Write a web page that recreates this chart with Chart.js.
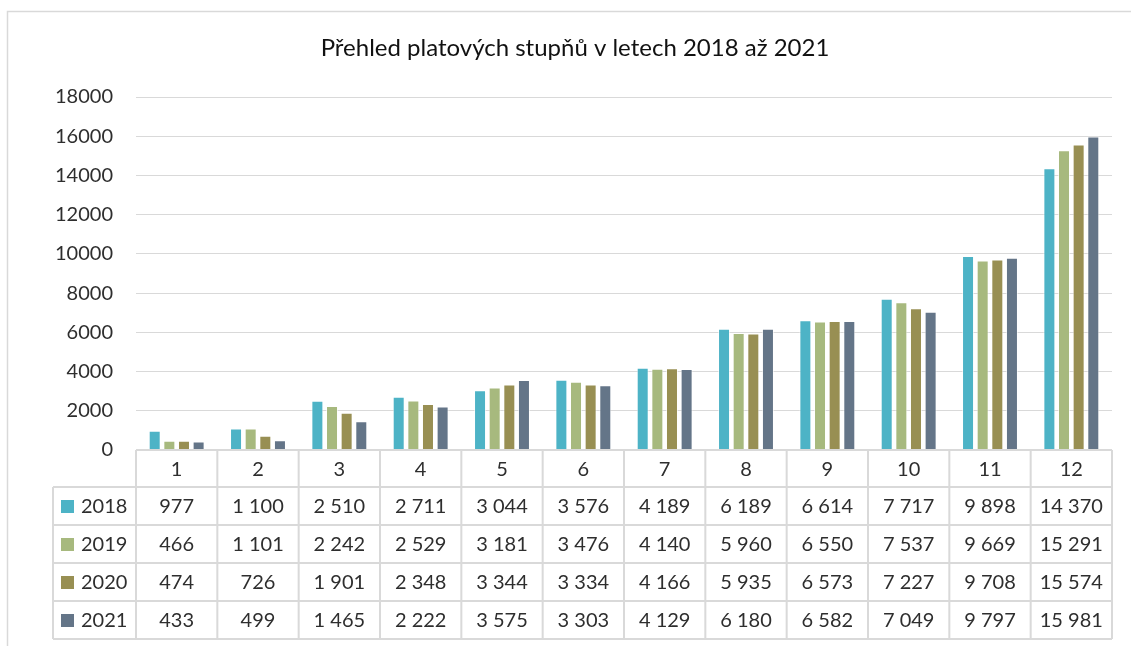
<!DOCTYPE html>
<html>
<head>
<meta charset="utf-8">
<script src="https://cdn.jsdelivr.net/npm/chart.js@4.4.1/dist/chart.umd.min.js"></script>
<style>
    body { margin: 0; background: #fff; }
    #wrap { width: 1131px; height: 646px; position: relative; }
</style>
</head>
<body>
<div id="wrap"><canvas id="chart"></canvas></div>
<script>
// data
const categories = ['1', '2', '3', '4', '5', '6', '7', '8', '9', '10', '11', '12'];
const years = ['2018', '2019', '2020', '2021'];
const values2018 = [977, 1100, 2510, 2711, 3044, 3576, 4189, 6189, 6614, 7717, 9898, 14370];
const values2019 = [466, 1101, 2242, 2529, 3181, 3476, 4140, 5960, 6550, 7537, 9669, 15291];
const values2020 = [474, 726, 1901, 2348, 3344, 3334, 4166, 5935, 6573, 7227, 9708, 15574];
const values2021 = [433, 499, 1465, 2222, 3575, 3303, 4129, 6180, 6582, 7049, 9797, 15981];
const yMax = 18000;
const yStep = 2000;

const titleText = 'Přehled platových stupňů v letech 2018 až 2021';
const seriesColors = ['#4db3c6', '#a7b97e', '#988f53', '#647588'];
const fontFamily = 'Lato, "Open Sans", sans-serif';
const textColor = '#2e2e2e';
const lineColor = '#d9d9d9';

const allValues = [values2018, values2019, values2020, values2021];

function formatNumber(v) {
    return String(v).replace(/\B(?=(\d{3})+(?!\d))/g, ' ');
}

// draws the frame, title and the data table under the plot
const tablePlugin = {
    id: 'dataTable',
    afterDraw(chart) {
        const ctx = chart.ctx;
        const area = chart.chartArea;
        const xScale = chart.scales.x;
        const colWidth = area.width / categories.length;
        const headerH = 37;
        const rowH = 38;
        const legendLeft = 53;
        const top = area.bottom;
        const bottom = top + headerH + rowH * years.length;

        ctx.save();

        // outer frame (top and left edge only)
        ctx.strokeStyle = lineColor;
        ctx.lineWidth = 1.5;
        ctx.beginPath();
        ctx.moveTo(7.5, 646);
        ctx.lineTo(7.5, 11.5);
        ctx.lineTo(1131, 11.5);
        ctx.stroke();

        // title
        ctx.fillStyle = '#111';
        ctx.font = '24px ' + fontFamily;
        ctx.textAlign = 'center';
        ctx.textBaseline = 'middle';
        ctx.fillText(titleText, 575, 48);

        // table lines
        ctx.lineWidth = 2;
        ctx.strokeStyle = lineColor;
        ctx.beginPath();
        // header row
        ctx.moveTo(area.left, top);
        ctx.lineTo(area.right, top);
        for (let r = 0; r <= years.length; r++) {
            const y = top + headerH + r * rowH;
            ctx.moveTo(legendLeft, y);
            ctx.lineTo(area.right, y);
        }
        ctx.moveTo(legendLeft, top + headerH);
        ctx.lineTo(legendLeft, bottom);
        for (let i = 0; i <= categories.length; i++) {
            const x = area.left + i * colWidth;
            ctx.moveTo(x, top);
            ctx.lineTo(x, bottom);
        }
        ctx.stroke();

        // header labels
        ctx.fillStyle = textColor;
        ctx.font = '20px ' + fontFamily;
        ctx.textAlign = 'center';
        categories.forEach((c, i) => {
            ctx.fillText(c, xScale.getPixelForValue(i), top + headerH / 2 + 1);
        });

        // series rows
        years.forEach((yr, r) => {
            const cy = top + headerH + r * rowH + rowH / 2 + 1;
            ctx.fillStyle = seriesColors[r];
            ctx.fillRect(61, cy - 7, 13, 13);
            ctx.fillStyle = textColor;
            ctx.textAlign = 'left';
            ctx.fillText(yr, 81, cy);
            ctx.textAlign = 'center';
            allValues[r].forEach((v, i) => {
                ctx.fillText(formatNumber(v), xScale.getPixelForValue(i), cy);
            });
        });

        ctx.restore();
    }
};

const ctx = document.getElementById('chart').getContext('2d');
new Chart(ctx, {
    type: 'bar',
    data: {
        labels: categories,
        datasets: years.map((yr, i) => ({
            label: yr,
            data: allValues[i],
            backgroundColor: seriesColors[i],
            borderColor: 'rgba(255,255,255,0.6)',
            borderWidth: 1
        }))
    },
    options: {
        responsive: true,
        maintainAspectRatio: false,
        animation: false,
        layout: {
            padding: { top: 97, right: 19, bottom: 196, left: 0 }
        },
        datasets: {
            bar: { categoryPercentage: 0.72, barPercentage: 0.82 }
        },
        plugins: {
            legend: { display: false },
            title: { display: false },
            tooltip: { enabled: false }
        },
        scales: {
            x: {
                display: false,
                grid: { display: false }
            },
            y: {
                min: 0,
                max: yMax,
                afterFit: scale => { scale.width = 136; },
                border: { display: false },
                grid: { color: lineColor, lineWidth: 1, drawTicks: false },
                ticks: {
                    stepSize: yStep,
                    padding: 23,
                    color: textColor,
                    font: { family: fontFamily, size: 20 },
                    callback: v => String(v)
                }
            }
        }
    },
    plugins: [tablePlugin]
});
</script>
</body>
</html>
